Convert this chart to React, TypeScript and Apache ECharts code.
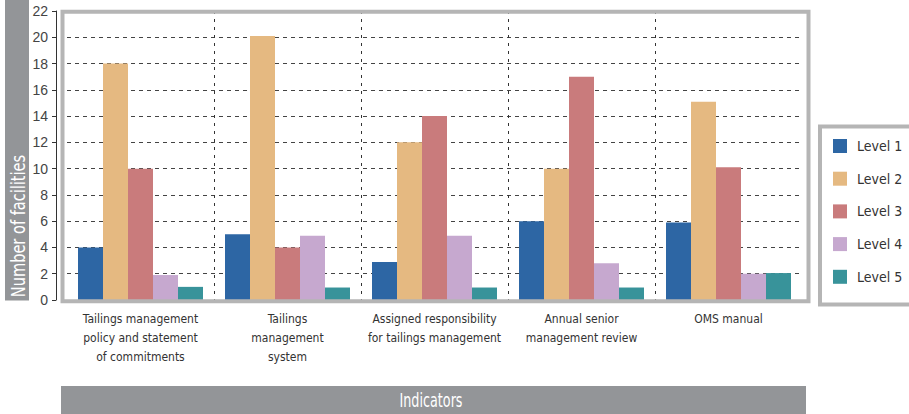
import React, { useEffect, useRef } from "react";
import * as echarts from "echarts";

const categories = [
  "Tailings management\npolicy and statement\nof commitments",
  "Tailings\nmanagement\nsystem",
  "Assigned responsibility\nfor tailings management",
  "Annual senior\nmanagement review",
  "OMS manual",
];
const seriesNames = ["Level 1", "Level 2", "Level 3", "Level 4", "Level 5"];
const level1 = [4, 5, 2.9, 6, 5.9];
const level2 = [18, 20.1, 12, 10, 15.1];
const level3 = [10, 4, 14, 17, 10.1];
const level4 = [1.9, 4.9, 4.9, 2.8, 2];
const level5 = [1, 0.95, 0.95, 0.95, 2.05];
const yTicks = { min: 0, max: 22, interval: 2 };
const colors = ["#2d66a4", "#e5b981", "#c97b7c", "#c6a8cf", "#38939a"];

const NARROW = "'DejaVu Sans Condensed', 'Liberation Sans Narrow', sans-serif";

export default function App() {
  const ref = useRef<HTMLDivElement>(null);
  useEffect(() => {
    if (!ref.current) return;
    const chart = echarts.init(ref.current, null, { renderer: "svg" });
    const values = [level1, level2, level3, level4, level5];
    chart.setOption({
      animation: false,
      backgroundColor: "#ffffff",
      grid: { left: 67, right: 107, top: 11, bottom: 114, containLabel: false },
      xAxis: {
        type: "category",
        data: categories,
        axisLine: { show: false },
        axisTick: { show: false },
        axisLabel: {
          interval: 0,
          margin: 9,
          lineHeight: 19,
          fontSize: 12,
          fontFamily: NARROW,
          color: "#333",
        },
        splitLine: {
          show: true,
          interval: 0,
          showMinLine: false,
          showMaxLine: false,
          lineStyle: { color: "#333", width: 1, type: [3, 5] },
        },
      },
      yAxis: {
        type: "value",
        min: yTicks.min,
        max: yTicks.max,
        interval: yTicks.interval,
        offset: 11,
        axisLine: { show: true, lineStyle: { color: "#333", width: 1 } },
        axisTick: { show: true, length: 4, lineStyle: { color: "#333" } },
        axisLabel: { fontSize: 14, color: "#444", margin: 8, fontFamily: "'Liberation Sans', sans-serif" },
        splitLine: {
          show: true,
          showMinLine: false,
          showMaxLine: false,
          lineStyle: { color: "#444", width: 1, type: [4, 4] },
        },
      },
      legend: {
        orient: "vertical",
        left: 833,
        top: 139,
        itemWidth: 14,
        itemHeight: 14,
        itemGap: 18.7,
        padding: 0,
        icon: "rect",
        z: 6,
        textStyle: { fontSize: 14, color: "#333", fontFamily: NARROW, padding: [0, 0, 0, 5] },
        data: seriesNames,
      },
      series: seriesNames.map((name, i) => ({
        name,
        type: "bar",
        data: values[i],
        barWidth: 25,
        barGap: "0%",
        itemStyle: { color: colors[i] },
      })),
      graphic: [
        {
          type: "rect",
          z: 1,
          shape: { x: 820, y: 126.5, width: 120, height: 178 },
          style: { fill: "#ffffff", stroke: "#b5b5b5", lineWidth: 4 },
        },
        {
          type: "rect",
          z: 10,
          shape: { x: 62.5, y: 11.75, width: 746, height: 289.5 },
          style: { fill: "none", stroke: "#b5b5b5", lineWidth: 4 },
        },
        {
          type: "rect",
          z: 10,
          shape: { x: 5, y: 0, width: 24, height: 300.5 },
          style: { fill: "#939598" },
        },
        {
          type: "text",
          z: 11,
          x: 17.5,
          y: 226,
          rotation: Math.PI / 2,
          scaleX: 0.81,
          style: {
            text: "Number of facilities",
            fill: "#ffffff",
            fontSize: 20,
            fontFamily: NARROW,
            align: "center",
            verticalAlign: "middle",
          },
        },
        {
          type: "rect",
          z: 10,
          shape: { x: 61, y: 386, width: 745, height: 28 },
          style: { fill: "#939598" },
        },
        {
          type: "text",
          z: 11,
          x: 431,
          y: 400,
          scaleX: 0.71,
          style: {
            text: "Indicators",
            fill: "#ffffff",
            fontSize: 20,
            fontFamily: NARROW,
            align: "center",
            verticalAlign: "middle",
          },
        },
      ],
    });
    return () => chart.dispose();
  }, []);
  return (
    <div
      ref={ref}
      style={{ position: "fixed", left: 0, top: 0, width: 909, height: 414 }}
    />
  );
}
